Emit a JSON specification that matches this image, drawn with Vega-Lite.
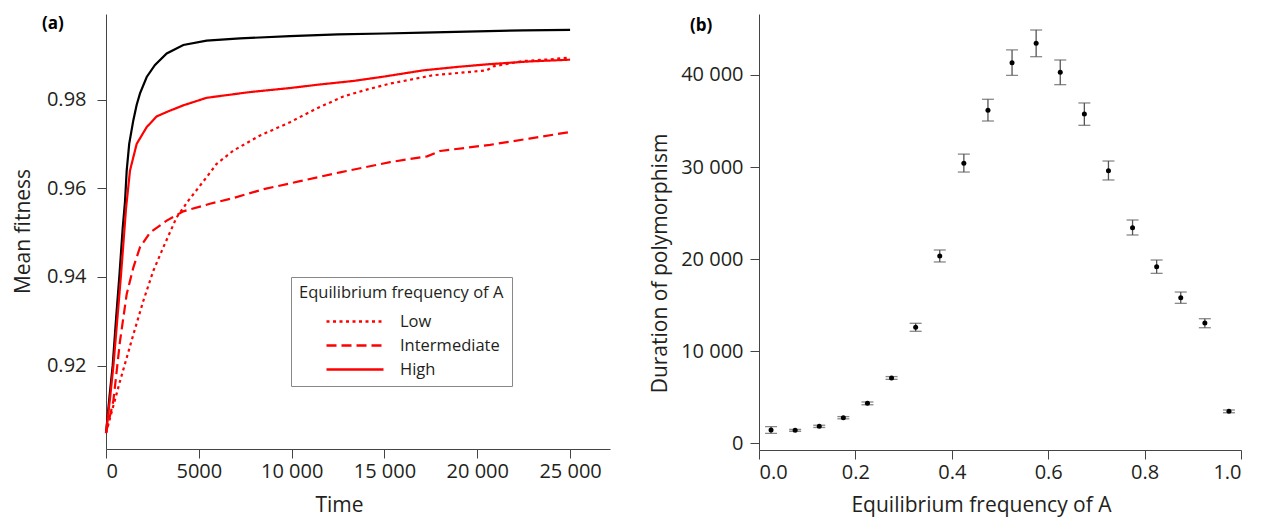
{
  "$schema": "https://vega.github.io/schema/vega-lite/v6.json",
  "background": "white",
  "padding": {"left": 12, "top": 14, "right": 0, "bottom": 4},
  "config": {
    "font": "Open Sans",
    "view": {"stroke": null},
    "concat": {"spacing": 39},
    "axis": {
      "grid": false,
      "domainColor": "#444",
      "tickColor": "#444",
      "tickSize": 9,
      "labelColor": "#231f20",
      "titleColor": "#231f20",
      "labelFontSize": 20,
      "titleFontSize": 21,
      "titleFontWeight": "normal",
      "labelFont": "Open Sans",
      "titleFont": "Open Sans"
    }
  },
  "datasets": {
    "black": [
      {"t": 0, "v": 0.9048}, {"t": 200, "v": 0.9135}, {"t": 360, "v": 0.92}, {"t": 550, "v": 0.931},
      {"t": 717, "v": 0.94}, {"t": 900, "v": 0.951}, {"t": 1024, "v": 0.957}, {"t": 1115, "v": 0.964},
      {"t": 1250, "v": 0.97}, {"t": 1471, "v": 0.9753}, {"t": 1650, "v": 0.9788}, {"t": 1832, "v": 0.9814},
      {"t": 2193, "v": 0.9851}, {"t": 2640, "v": 0.9878}, {"t": 3270, "v": 0.9904}, {"t": 4165, "v": 0.9923},
      {"t": 5420, "v": 0.9933}, {"t": 7220, "v": 0.9938}, {"t": 9914, "v": 0.9943}, {"t": 12500, "v": 0.9947},
      {"t": 15000, "v": 0.9949}, {"t": 17100, "v": 0.9951}, {"t": 20000, "v": 0.9954}, {"t": 22500, "v": 0.9956},
      {"t": 25000, "v": 0.9957}
    ],
    "red": [
      {"level": "High", "t": 0, "v": 0.9048}, {"level": "High", "t": 200, "v": 0.912}, {"level": "High", "t": 400, "v": 0.92},
      {"level": "High", "t": 600, "v": 0.93}, {"level": "High", "t": 800, "v": 0.94}, {"level": "High", "t": 1080, "v": 0.9555},
      {"level": "High", "t": 1293, "v": 0.964}, {"level": "High", "t": 1652, "v": 0.97}, {"level": "High", "t": 2193, "v": 0.9738},
      {"level": "High", "t": 2730, "v": 0.9762}, {"level": "High", "t": 3270, "v": 0.9772}, {"level": "High", "t": 4165, "v": 0.9787},
      {"level": "High", "t": 5420, "v": 0.9804}, {"level": "High", "t": 7760, "v": 0.9817}, {"level": "High", "t": 9914, "v": 0.9826},
      {"level": "High", "t": 11500, "v": 0.9834}, {"level": "High", "t": 13325, "v": 0.9842}, {"level": "High", "t": 15000, "v": 0.9852},
      {"level": "High", "t": 17100, "v": 0.9866}, {"level": "High", "t": 19000, "v": 0.9874}, {"level": "High", "t": 20690, "v": 0.988},
      {"level": "High", "t": 22800, "v": 0.9886}, {"level": "High", "t": 25000, "v": 0.989},
      {"level": "Intermediate", "t": 0, "v": 0.9048}, {"level": "Intermediate", "t": 395, "v": 0.912}, {"level": "Intermediate", "t": 754, "v": 0.9255},
      {"level": "Intermediate", "t": 1114, "v": 0.9361}, {"level": "Intermediate", "t": 1471, "v": 0.9421}, {"level": "Intermediate", "t": 1832, "v": 0.9467},
      {"level": "Intermediate", "t": 2370, "v": 0.95}, {"level": "Intermediate", "t": 3270, "v": 0.9527}, {"level": "Intermediate", "t": 4165, "v": 0.9548},
      {"level": "Intermediate", "t": 5600, "v": 0.9565}, {"level": "Intermediate", "t": 6860, "v": 0.9578}, {"level": "Intermediate", "t": 8500, "v": 0.9598},
      {"level": "Intermediate", "t": 10450, "v": 0.9616}, {"level": "Intermediate", "t": 12608, "v": 0.9636}, {"level": "Intermediate", "t": 15302, "v": 0.9659},
      {"level": "Intermediate", "t": 17300, "v": 0.9672}, {"level": "Intermediate", "t": 18000, "v": 0.9684}, {"level": "Intermediate", "t": 20690, "v": 0.9698},
      {"level": "Intermediate", "t": 22800, "v": 0.9712}, {"level": "Intermediate", "t": 25000, "v": 0.9727},
      {"level": "Low", "t": 0, "v": 0.9048}, {"level": "Low", "t": 754, "v": 0.9165}, {"level": "Low", "t": 1471, "v": 0.927},
      {"level": "Low", "t": 2010, "v": 0.9346}, {"level": "Low", "t": 2550, "v": 0.9414}, {"level": "Low", "t": 3090, "v": 0.9467},
      {"level": "Low", "t": 3800, "v": 0.9534}, {"level": "Low", "t": 4435, "v": 0.9572}, {"level": "Low", "t": 5420, "v": 0.9625},
      {"level": "Low", "t": 5960, "v": 0.9655}, {"level": "Low", "t": 6860, "v": 0.9685}, {"level": "Low", "t": 8300, "v": 0.9719},
      {"level": "Low", "t": 9914, "v": 0.9749}, {"level": "Low", "t": 11350, "v": 0.978}, {"level": "Low", "t": 12785, "v": 0.9807},
      {"level": "Low", "t": 14000, "v": 0.9822}, {"level": "Low", "t": 15302, "v": 0.9836}, {"level": "Low", "t": 17635, "v": 0.9855},
      {"level": "Low", "t": 19500, "v": 0.9862}, {"level": "Low", "t": 20510, "v": 0.9866}, {"level": "Low", "t": 20870, "v": 0.9875},
      {"level": "Low", "t": 22490, "v": 0.9887}, {"level": "Low", "t": 24000, "v": 0.9891}, {"level": "Low", "t": 25000, "v": 0.9895}
    ],
    "dur": [
      {"f": 0.025, "mean": 1410, "lo": 1050, "hi": 1780},
      {"f": 0.075, "mean": 1380, "lo": 1280, "hi": 1480},
      {"f": 0.125, "mean": 1810, "lo": 1690, "hi": 1930},
      {"f": 0.175, "mean": 2750, "lo": 2630, "hi": 2870},
      {"f": 0.225, "mean": 4310, "lo": 4160, "hi": 4460},
      {"f": 0.275, "mean": 7070, "lo": 6920, "hi": 7220},
      {"f": 0.325, "mean": 12570, "lo": 12140, "hi": 13010},
      {"f": 0.375, "mean": 20330, "lo": 19680, "hi": 20980},
      {"f": 0.425, "mean": 30400, "lo": 29450, "hi": 31400},
      {"f": 0.475, "mean": 36160, "lo": 35000, "hi": 37360},
      {"f": 0.525, "mean": 41340, "lo": 39960, "hi": 42720},
      {"f": 0.575, "mean": 43440, "lo": 41990, "hi": 44890},
      {"f": 0.625, "mean": 40290, "lo": 38950, "hi": 41630},
      {"f": 0.675, "mean": 35760, "lo": 34530, "hi": 36960},
      {"f": 0.725, "mean": 29600, "lo": 28590, "hi": 30650},
      {"f": 0.775, "mean": 23400, "lo": 22610, "hi": 24240},
      {"f": 0.825, "mean": 19160, "lo": 18440, "hi": 19890},
      {"f": 0.875, "mean": 15790, "lo": 15180, "hi": 16410},
      {"f": 0.925, "mean": 13040, "lo": 12530, "hi": 13510},
      {"f": 0.975, "mean": 3440, "lo": 3290, "hi": 3590}
    ]
  },
  "hconcat": [
    {
      "width": 504,
      "height": 435,
      "title": {"text": "(a)", "anchor": "start", "frame": "group", "offset": -19, "dx": -64, "fontSize": 17, "fontWeight": "bold", "font": "Open Sans", "color": "black"},
      "layer": [
        {
          "data": {"name": "black"},
          "mark": {"type": "line", "color": "black", "strokeWidth": 2.2},
          "encoding": {
            "x": {"field": "t", "type": "quantitative", "scale": {"domain": [0, 27150], "nice": false, "zero": false},
              "axis": {"title": "Time", "values": [0, 5000, 10000, 15000, 20000, 25000], "labelExpr": "datum.value >= 10000 ? replace(format(datum.value, ','), ',', ' ') : format(datum.value, 'd')", "labelPadding": 3, "titleX": 233, "titleY": 56, "titleBaseline": "middle", "titleAlign": "center"}},
            "y": {"field": "v", "type": "quantitative", "scale": {"domain": [0.9012, 0.9993], "nice": false, "zero": false},
              "axis": {"title": "Mean fitness", "values": [0.92, 0.94, 0.96, 0.98], "format": ".2f", "labelPadding": 11, "titleX": -83, "titleY": 217, "titleBaseline": "middle", "titleAlign": "center", "titleAngle": -90}}
          }
        },
        {
          "data": {"name": "red"},
          "mark": {"type": "line", "color": "#ff0000", "strokeWidth": 2.2},
          "encoding": {
            "x": {"field": "t", "type": "quantitative", "scale": {"domain": [0, 27150], "nice": false, "zero": false},
              "axis": {"title": "Time", "values": [0, 5000, 10000, 15000, 20000, 25000], "labelExpr": "datum.value >= 10000 ? replace(format(datum.value, ','), ',', ' ') : format(datum.value, 'd')", "labelPadding": 3, "titleX": 233, "titleY": 56, "titleBaseline": "middle", "titleAlign": "center"}},
            "y": {"field": "v", "type": "quantitative", "scale": {"domain": [0.9012, 0.9993], "nice": false, "zero": false},
              "axis": {"title": "Mean fitness", "values": [0.92, 0.94, 0.96, 0.98], "format": ".2f", "labelPadding": 11, "titleX": -83, "titleY": 217, "titleBaseline": "middle", "titleAlign": "center", "titleAngle": -90}},
            "strokeDash": {
              "field": "level", "type": "nominal",
              "scale": {"domain": ["Low", "Intermediate", "High"], "range": [[3, 3.5], [10, 5], [1, 0]]},
              "legend": {
                "orient": "none", "legendX": 185, "legendY": 263,
                "title": "Equilibrium frequency of A", "titleFontSize": 16.5, "titleFont": "Open Sans", "titleFontWeight": "normal", "titleColor": "#231f20", "titleLimit": 400, "titlePadding": 12,
                "labelFontSize": 16.5, "labelFont": "Open Sans", "labelColor": "#231f20",
                "fillColor": "white", "strokeColor": "#888", "padding": 8,
                "symbolType": "stroke", "symbolSize": 3249, "symbolStrokeWidth": 2.5, "symbolStrokeColor": "#ff0000",
                "symbolOffset": 26, "labelOffset": 15, "clipHeight": 16, "rowPadding": 7
              }
            }
          }
        }
      ]
    },
    {
      "width": 482,
      "height": 436,
      "data": {"name": "dur"},
      "title": {"text": "(b)", "anchor": "start", "frame": "group", "offset": -21, "dx": -69, "fontSize": 17, "fontWeight": "bold", "font": "Open Sans", "color": "black"},
      "layer": [
        {
          "mark": {"type": "rule", "color": "#555", "strokeWidth": 1.3},
          "encoding": {
            "x": {"field": "f", "type": "quantitative", "scale": {"domain": [0, 1], "nice": false, "zero": false},
              "axis": {"title": "Equilibrium frequency of A", "values": [0, 0.2, 0.4, 0.6, 0.8, 1], "format": ".1f", "labelPadding": 3, "titleX": 222, "titleY": 55, "titleBaseline": "middle", "titleAlign": "center"}},
            "y": {"field": "lo", "type": "quantitative", "scale": {"domain": [-760, 46630], "nice": false, "zero": false},
              "axis": {"title": "Duration of polymorphism", "values": [0, 10000, 20000, 30000, 40000], "labelExpr": "datum.value >= 10000 ? replace(format(datum.value, ','), ',', ' ') : format(datum.value, 'd')", "labelPadding": 7, "titleX": -99, "titleY": 249, "titleBaseline": "middle", "titleAlign": "center", "titleAngle": -90}},
            "y2": {"field": "hi"}
          }
        },
        {
          "mark": {"type": "tick", "orient": "horizontal", "color": "#555", "size": 12, "thickness": 1.3},
          "encoding": {
            "x": {"field": "f", "type": "quantitative", "scale": {"domain": [0, 1], "nice": false, "zero": false},
              "axis": {"title": "Equilibrium frequency of A", "values": [0, 0.2, 0.4, 0.6, 0.8, 1], "format": ".1f", "labelPadding": 3, "titleX": 222, "titleY": 55, "titleBaseline": "middle", "titleAlign": "center"}},
            "y": {"field": "lo", "type": "quantitative", "scale": {"domain": [-760, 46630], "nice": false, "zero": false},
              "axis": {"title": "Duration of polymorphism", "values": [0, 10000, 20000, 30000, 40000], "labelExpr": "datum.value >= 10000 ? replace(format(datum.value, ','), ',', ' ') : format(datum.value, 'd')", "labelPadding": 7, "titleX": -99, "titleY": 249, "titleBaseline": "middle", "titleAlign": "center", "titleAngle": -90}}
          }
        },
        {
          "mark": {"type": "tick", "orient": "horizontal", "color": "#555", "size": 12, "thickness": 1.3},
          "encoding": {
            "x": {"field": "f", "type": "quantitative", "scale": {"domain": [0, 1], "nice": false, "zero": false},
              "axis": {"title": "Equilibrium frequency of A", "values": [0, 0.2, 0.4, 0.6, 0.8, 1], "format": ".1f", "labelPadding": 3, "titleX": 222, "titleY": 55, "titleBaseline": "middle", "titleAlign": "center"}},
            "y": {"field": "hi", "type": "quantitative", "scale": {"domain": [-760, 46630], "nice": false, "zero": false},
              "axis": {"title": "Duration of polymorphism", "values": [0, 10000, 20000, 30000, 40000], "labelExpr": "datum.value >= 10000 ? replace(format(datum.value, ','), ',', ' ') : format(datum.value, 'd')", "labelPadding": 7, "titleX": -99, "titleY": 249, "titleBaseline": "middle", "titleAlign": "center", "titleAngle": -90}}
          }
        },
        {
          "mark": {"type": "point", "filled": true, "color": "black", "size": 25, "opacity": 1},
          "encoding": {
            "x": {"field": "f", "type": "quantitative", "scale": {"domain": [0, 1], "nice": false, "zero": false},
              "axis": {"title": "Equilibrium frequency of A", "values": [0, 0.2, 0.4, 0.6, 0.8, 1], "format": ".1f", "labelPadding": 3, "titleX": 222, "titleY": 55, "titleBaseline": "middle", "titleAlign": "center"}},
            "y": {"field": "mean", "type": "quantitative", "scale": {"domain": [-760, 46630], "nice": false, "zero": false},
              "axis": {"title": "Duration of polymorphism", "values": [0, 10000, 20000, 30000, 40000], "labelExpr": "datum.value >= 10000 ? replace(format(datum.value, ','), ',', ' ') : format(datum.value, 'd')", "labelPadding": 7, "titleX": -99, "titleY": 249, "titleBaseline": "middle", "titleAlign": "center", "titleAngle": -90}}
          }
        }
      ]
    }
  ]
}
